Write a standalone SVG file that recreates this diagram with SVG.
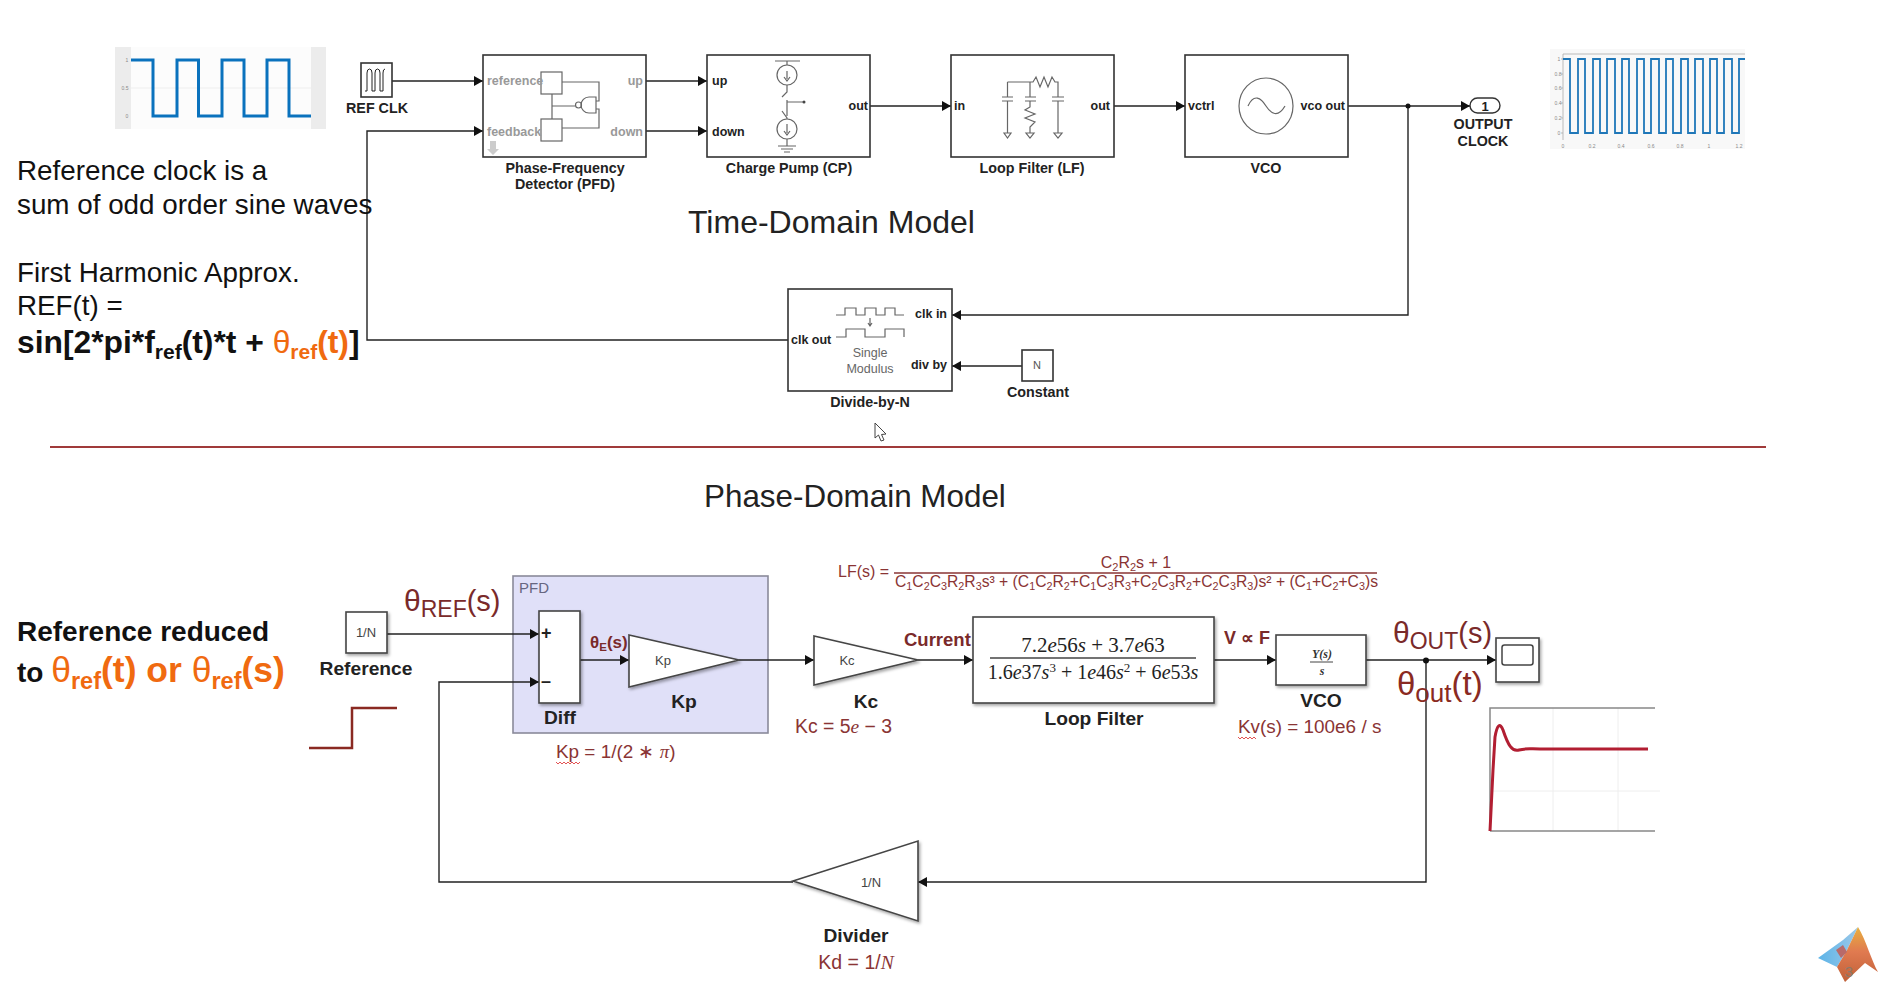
<svg xmlns="http://www.w3.org/2000/svg" width="1880" height="983" viewBox="0 0 1880 983">
<style>
text{font-family:"Liberation Sans",Arial,sans-serif;fill:#111}
.box{fill:#fff;stroke:#333;stroke-width:1.6}
.sbox{fill:#fff;stroke:#444;stroke-width:1.6;filter:url(#sh)}
.wire{fill:none;stroke:#222;stroke-width:1.4}
.ic{fill:none;stroke:#666;stroke-width:1.2}
.lb{font-weight:700;font-size:14.300px;fill:#222;text-anchor:middle}
.pt{font-size:12.500px;font-weight:700;fill:#222}
.gp{font-size:12.500px;font-weight:700;fill:#999}
.end{text-anchor:end}
.mid{text-anchor:middle}
.bl{font-weight:700;font-size:19.200px;fill:#222;text-anchor:middle}
.red{fill:#8a3434;font-size:18.900px}
.lf{fill:#8a3434;font-size:16px}
.dk{fill:#7a2a2a}
.do{fill:#8a2a22}
.or{fill:#f06a10}
.b{font-weight:700}
.tx{font-size:27.800px;fill:#111}
.tk{font-size:5px;fill:#888;text-anchor:middle}
.m{font-family:"Liberation Serif","Times New Roman",serif;font-size:21px;fill:#222;text-anchor:middle}
.m2{font-family:"Liberation Serif","Times New Roman",serif;font-size:12px;font-style:italic;font-weight:700;fill:#333;text-anchor:middle}
.sq{fill:none;stroke:#e04040;stroke-width:.9}
.ti{fill:#222}
.sm{font-size:13px;fill:#444;text-anchor:middle}
</style>
<defs>
<marker id="a" markerUnits="userSpaceOnUse" markerWidth="10" markerHeight="10" refX="9" refY="5" orient="auto"><path d="M0 0L9 5L0 10z" fill="#111"/></marker>
<filter id="sh" x="-10%" y="-10%" width="125%" height="125%"><feDropShadow dx="1.5" dy="2" stdDeviation="1.5" flood-color="#000" flood-opacity=".35"/></filter>
<linearGradient id="mlA" x1="0" y1="0" x2="0" y2="1"><stop offset="0" stop-color="#e8b040"/><stop offset=".45" stop-color="#e07a50"/><stop offset="1" stop-color="#c06038"/></linearGradient>
<linearGradient id="mlB" x1="0" y1="0" x2="1" y2="0"><stop offset="0" stop-color="#5cb4e8"/><stop offset="1" stop-color="#9cc8e8"/></linearGradient>
</defs>

<g id="wave-left">
<rect x="115" y="47" width="211" height="82" fill="#fcfcfc"/>
<rect x="115" y="47" width="16" height="82" fill="#ececec"/><rect x="311" y="47" width="15" height="82" fill="#ececec"/>
<path d="M131 88H311" stroke="#eee" fill="none"/>
<text class="tk" x="127" y="62">1</text><text class="tk" x="125" y="90">0.5</text><text class="tk" x="127" y="118">0</text>
<path d="M131 60H153V116H177V60H198.500V116H222V60H244V116H267V60H289V116H311" fill="none" stroke="#0a72bd" stroke-width="3"/>
</g>
<g id="wave-right">
<rect x="1550" y="49" width="195" height="100" fill="#f8f8f8"/>
<path d="M1563 140V54H1745M1563 133h-2M1563 118h-2M1563 103h-2M1563 88h-2M1563 74h-2M1563 59h-2" fill="none" stroke="#aaa" stroke-width=".8"/>
<path d="M1563 59H1570V133H1578V59H1585V133H1593V59H1600V133H1607V59H1615V133H1622V59H1629V133H1637V59H1644V133H1651V59H1659V133H1666V59H1673V133H1681V59H1688V133H1695V59H1703V133H1710V59H1717V133H1724V59H1732V133H1739V59H1745" fill="none" stroke="#1f77b8" stroke-width="1.800"/>
<text class="tk" x="1559" y="61">1</text><text class="tk" x="1558" y="76">0.8</text><text class="tk" x="1558" y="90">0.6</text><text class="tk" x="1558" y="105">0.4</text><text class="tk" x="1558" y="120">0.2</text><text class="tk" x="1559" y="135">0</text>
<text class="tk" x="1563" y="148">0</text><text class="tk" x="1592" y="148">0.2</text><text class="tk" x="1621" y="148">0.4</text><text class="tk" x="1651" y="148">0.6</text><text class="tk" x="1680" y="148">0.8</text><text class="tk" x="1709" y="148">1</text><text class="tk" x="1739" y="148">1.2</text>
</g>

<g id="connectors">
<path class="wire" marker-end="url(#a)" d="M392 81H483"/>
<path class="wire" marker-end="url(#a)" d="M788 340H367V131H483"/>
<path class="wire" marker-end="url(#a)" d="M646 81H707"/>
<path class="wire" marker-end="url(#a)" d="M646 131H707"/>
<path class="wire" marker-end="url(#a)" d="M870 106H951"/>
<path class="wire" marker-end="url(#a)" d="M1114 106H1185"/>
<path class="wire" marker-end="url(#a)" d="M1348 106H1470"/>
<path class="wire" marker-end="url(#a)" d="M1408 106V315H952"/>
<path class="wire" marker-end="url(#a)" d="M1022 366H952"/>
<circle cx="1408" cy="106" r="2.500" fill="#111"/>
</g>

<g id="left-notes">
<text class="tx" x="17" y="180">Reference clock is a</text>
<text class="tx" x="17" y="214">sum of odd order sine waves</text>
<text class="tx" x="17" y="282">First Harmonic Approx.</text>
<text class="tx" x="17" y="315">REF(t) =</text>
<text x="17" y="353" font-size="31.800" class="b">sin[2*pi*f<tspan font-size="21" dy="6">ref</tspan><tspan dy="-6">(t)*t + </tspan><tspan class="or" font-weight="400">θ</tspan><tspan class="or" font-size="21" dy="6">ref</tspan><tspan class="or" dy="-6">(t)</tspan>]</text>
<text x="17" y="641" font-size="28" class="b">Reference reduced</text>
<text x="17" y="682" font-size="28" class="b">to <tspan class="or" font-size="35.500" font-weight="400">θ</tspan><tspan class="or" font-size="23.500" dy="7">ref</tspan><tspan class="or" font-size="35.500" dy="-7">(t) or </tspan><tspan class="or" font-size="35.500" font-weight="400">θ</tspan><tspan class="or" font-size="23.500" dy="7">ref</tspan><tspan class="or" font-size="35.500" dy="-7">(s)</tspan></text>
</g>

<text class="ti" x="688" y="233" font-size="32">Time-Domain Model</text>
<text class="ti" x="704" y="507" font-size="31.400">Phase-Domain Model</text>
<path id="divider-rule" d="M50 447H1766" stroke="#a03a3a" stroke-width="2"/>
<path id="cursor" d="M875 423V438L878.500 435L881 441L884 440L881.500 434.500L886 434Z" fill="#fff" stroke="#444" stroke-width="1"/>

<g id="pfd-background"><rect x="513" y="576" width="255" height="157" fill="#e0e0f8" stroke="#8a8a9a" stroke-width="1.600"/><text x="519" y="593" font-size="15" style="fill:#666680">PFD</text></g>

<g id="connectors-phase">
<path class="wire" marker-end="url(#a)" d="M387 634H539"/>
<path class="wire" marker-end="url(#a)" d="M793 882H439V682H539"/>
<path class="wire" marker-end="url(#a)" d="M580 660H629"/>
<path class="wire" marker-end="url(#a)" d="M739 660H814"/>
<path class="wire" marker-end="url(#a)" d="M918 660H973"/>
<path class="wire" marker-end="url(#a)" d="M1214 660H1276"/>
<path class="wire" marker-end="url(#a)" d="M1366 660H1496"/>
<path class="wire" marker-end="url(#a)" d="M1426 660V882H918"/>
<circle cx="1426" cy="660.500" r="3" fill="#111"/>
</g>

<g id="ref-clk"><rect class="box" x="361" y="63" width="31" height="34"/><path d="M365 91H367V73Q367 69 369.500 69Q372 69 372 73V91H375V73Q375 69 377.500 69Q380 69 380 73V91H383V73Q383 69 385 69" fill="none" stroke="#222" stroke-width="1"/><text class="lb" x="377" y="113">REF CLK</text></g>

<g id="pfd-block"><rect class="box" x="483" y="55" width="163" height="102"/>
<rect class="ic" x="541" y="72" width="21" height="22"/><rect class="ic" x="541" y="119" width="21" height="22"/>
<path class="ic" d="M562 82H599V101H596M562 128H599V109H596M552 94V119M552 106H575M596 97V113H589A8 8 0 0 1 589 97Z"/><circle class="ic" cx="578.500" cy="105" r="3"/>
<path d="M490 141h6v8h3l-6 6l-6-6h3z" fill="#ccc"/>
<text class="gp" x="487" y="85">reference</text><text class="gp" x="487" y="136">feedback</text><text class="gp end" x="643" y="85">up</text><text class="gp end" x="643" y="136">down</text>
<text class="lb" x="565" y="173">Phase-Frequency</text><text class="lb" x="565" y="189">Detector (PFD)</text></g>

<g id="charge-pump"><rect class="box" x="707" y="55" width="163" height="102"/>
<path class="ic" d="M775 61H800M787 61V65M787 85V92L782 97M787 100V116M782 111L787 118V119M787 139V146M778 146H796M781 149H793M784 152H790M787 102H804M787 71V79M784 77L787 81L790 77M787 124V133M784 131L787 135L790 131"/><circle class="ic" cx="787" cy="75" r="10"/><circle class="ic" cx="787" cy="129" r="10"/><circle cx="804" cy="102" r="1.500" fill="#444"/>
<text class="pt" x="712" y="85">up</text><text class="pt" x="712" y="136">down</text><text class="pt end" x="868" y="110">out</text>
<text class="lb" x="789" y="173">Charge Pump (CP)</text></g>

<g id="loop-filter-lf"><rect class="box" x="951" y="55" width="163" height="102"/>
<path class="ic" d="M1007.500 82H1033L1036 77L1040 87L1044 77L1048 87L1052 77L1055 82H1058V97M1007.500 82V97M1030 82V97M1002 97H1013M1002 101H1013M1025 97H1036M1025 101H1036M1052 97H1064M1052 101H1064M1007.500 101V133M1058 101V133M1030 101V107L1025 110L1035 114L1025 118L1035 122L1030 127V133M1004 133H1011L1007.500 138ZM1026 133H1034L1030 138ZM1054 133H1062L1058 138Z"/>
<text class="pt" x="954" y="110">in</text><text class="pt end" x="1110" y="110">out</text>
<text class="lb" x="1032" y="173">Loop Filter (LF)</text></g>

<g id="vco-top"><rect class="box" x="1185" y="55" width="163" height="102"/>
<ellipse class="ic" cx="1266" cy="106" rx="27" ry="28"/><path class="ic" d="M1248 106C1254 93 1261 98 1266 106S1278 118 1285 106"/>
<text class="pt" x="1188" y="110">vctrl</text><text class="pt end" x="1345" y="110">vco out</text>
<text class="lb" x="1266" y="173">VCO</text></g>

<g id="output-clock"><rect x="1470" y="98" width="30" height="15" rx="7.500" fill="#fff" stroke="#333" stroke-width="1.400"/><text class="mid ti" x="1485" y="111" font-size="13" font-weight="700">1</text><text class="lb" x="1483" y="129">OUTPUT</text><text class="lb" x="1483" y="146">CLOCK</text></g>

<g id="divide-by-n"><rect class="box" x="788" y="289" width="164" height="102"/>
<path class="ic" d="M836 315H845V308H856V315H865V308H876V315H885V308H895V315H904M836 337H846V329H865V337H885V329H904V337M870 318V325M868 323L870 326L872 323"/>
<text class="mid" x="870" y="357" font-size="12.500" style="fill:#666">Single</text><text class="mid" x="870" y="373" font-size="12.500" style="fill:#666">Modulus</text>
<text class="pt end" x="947" y="318">clk in</text><text class="pt end" x="947" y="369">div by</text><text class="pt" x="791" y="344">clk out</text>
<text class="lb" x="870" y="407">Divide-by-N</text></g>

<g id="constant"><rect class="box" x="1022" y="350" width="31" height="31"/><text class="mid" x="1037" y="369" font-size="11" style="fill:#555">N</text><text class="lb" x="1038" y="397">Constant</text></g>

<g id="reference"><rect class="sbox" x="346" y="612" width="41" height="41"/><text class="sm" x="366" y="637">1/N</text><text class="bl" x="366" y="675">Reference</text></g>
<path id="step" d="M309 748H352V708H397" fill="none" stroke="#8a2a22" stroke-width="2.500"/>
<g id="theta-ref"><text class="dk" x="404" y="611" font-size="30">θ<tspan font-size="23" dy="6">REF</tspan><tspan font-size="29" dy="-6">(s)</tspan></text></g>

<g id="diff"><rect class="sbox" x="539" y="611" width="41" height="92"/><text class="ti" x="541" y="639" font-size="18" font-weight="700">+</text><text class="ti" x="541" y="687" font-size="18" font-weight="700">–</text><text class="bl" x="560" y="724">Diff</text></g>
<text class="dk b" x="590" y="648" font-size="17">θ<tspan font-size="11.500" dy="3">E</tspan><tspan dy="-3">(s)</tspan></text>
<g id="kp"><path class="sbox" d="M629 635L739 660L629 687Z"/><text class="sm" x="663" y="665">Kp</text><text class="bl" x="684" y="708">Kp</text></g>
<g id="kc"><path class="sbox" d="M814 636L918 660L814 685Z"/><text class="sm" x="847" y="665">Kc</text><text class="bl" x="866" y="708">Kc</text></g>
<g id="kp-eq"><text class="red" x="556" y="758">Kp = 1/(2 ∗ <tspan font-family="Liberation Serif" font-style="italic">π</tspan>)</text><path class="sq" d="M556 762l2 2l2-2l2 2l2-2l2 2l2-2l2 2l2-2l2 2l2-2l2 2l2-2"/></g>
<text class="red" x="795" y="733" style="font-size:19.400px">Kc = 5<tspan font-family="Liberation Serif" font-style="italic">e</tspan> − 3</text>

<text class="dk b" x="904" y="646" font-size="18.500">Current</text>
<g id="loop-filter"><rect class="sbox" x="973" y="617" width="241" height="86"/><text class="m" x="1093" y="652">7.2<tspan font-style="italic">e</tspan>56<tspan font-style="italic">s</tspan> + 3.7<tspan font-style="italic">e</tspan>63</text><path d="M990 658H1196" stroke="#444" stroke-width="1.500"/><text class="m" x="1093" y="679" style="font-size:20px">1.6<tspan font-style="italic">e</tspan>37<tspan font-style="italic">s</tspan><tspan font-size="13" dy="-7">3</tspan><tspan dy="7"> + 1</tspan><tspan font-style="italic">e</tspan>46<tspan font-style="italic">s</tspan><tspan font-size="13" dy="-7">2</tspan><tspan dy="7"> + 6</tspan><tspan font-style="italic">e</tspan>53<tspan font-style="italic">s</tspan></text><text class="bl" x="1094" y="725">Loop Filter</text></g>
<g id="lf-eq">
<text class="lf" x="838" y="577">LF(s) =</text>
<path d="M894 573H1377" stroke="#8a3434" stroke-width="1.300"/>
<text class="lf mid" x="1136" y="568">C<tspan font-size="11" dy="3">2</tspan><tspan dy="-3">R</tspan><tspan font-size="11" dy="3">2</tspan><tspan dy="-3">s + 1</tspan></text>
<text class="lf" x="895" y="587" textLength="483" lengthAdjust="spacingAndGlyphs">C<tspan font-size="11" dy="3">1</tspan><tspan dy="-3">C</tspan><tspan font-size="11" dy="3">2</tspan><tspan dy="-3">C</tspan><tspan font-size="11" dy="3">3</tspan><tspan dy="-3">R</tspan><tspan font-size="11" dy="3">2</tspan><tspan dy="-3">R</tspan><tspan font-size="11" dy="3">3</tspan><tspan dy="-3">s³ + (C</tspan><tspan font-size="11" dy="3">1</tspan><tspan dy="-3">C</tspan><tspan font-size="11" dy="3">2</tspan><tspan dy="-3">R</tspan><tspan font-size="11" dy="3">2</tspan><tspan dy="-3">+C</tspan><tspan font-size="11" dy="3">1</tspan><tspan dy="-3">C</tspan><tspan font-size="11" dy="3">3</tspan><tspan dy="-3">R</tspan><tspan font-size="11" dy="3">3</tspan><tspan dy="-3">+C</tspan><tspan font-size="11" dy="3">2</tspan><tspan dy="-3">C</tspan><tspan font-size="11" dy="3">3</tspan><tspan dy="-3">R</tspan><tspan font-size="11" dy="3">2</tspan><tspan dy="-3">+C</tspan><tspan font-size="11" dy="3">2</tspan><tspan dy="-3">C</tspan><tspan font-size="11" dy="3">3</tspan><tspan dy="-3">R</tspan><tspan font-size="11" dy="3">3</tspan><tspan dy="-3">)s² + (C</tspan><tspan font-size="11" dy="3">1</tspan><tspan dy="-3">+C</tspan><tspan font-size="11" dy="3">2</tspan><tspan dy="-3">+C</tspan><tspan font-size="11" dy="3">3</tspan><tspan dy="-3">)s</tspan></text>
</g>
<text class="dk b" x="1224" y="644" font-size="18">V ∝ F</text>
<g id="vco"><rect class="sbox" x="1276" y="635" width="90" height="50"/><text class="m2" x="1322" y="658">Y(s)</text><path d="M1310 662H1333" stroke="#444" stroke-width="1"/><text class="m2" x="1322" y="675">s</text><text class="bl" x="1321" y="707">VCO</text></g>
<g id="kv-eq"><text class="red" x="1238" y="733">Kv(s) = 100e6 / s</text><path class="sq" d="M1238 737l2 2l2-2l2 2l2-2l2 2l2-2l2 2l2-2l2 2"/></g>
<text class="dk" x="1393" y="643" font-size="30">θ<tspan font-size="23" dy="6">OUT</tspan><tspan font-size="29" dy="-6">(s)</tspan></text>
<text class="do" x="1397" y="695" font-size="33">θ<tspan font-size="26" dy="7">out</tspan><tspan dy="-7">(t)</tspan></text>
<g id="scope"><rect class="sbox" x="1496" y="638" width="43" height="44"/><rect x="1502" y="645" width="31" height="20" rx="2.500" fill="#fff" stroke="#444" stroke-width="1.500"/></g>
<g id="scope-plot"><path d="M1553 708V831M1618 708V831M1490 791H1660" stroke="#eee" fill="none"/><path d="M1490 831V708H1655M1490 831H1655" fill="none" stroke="#888" stroke-width="1.500"/>
<path d="M1490 831L1493 770L1495 737C1497 725 1500 722 1503 730C1508 745 1512 752 1519 750C1526 748 1530 749 1540 749H1648" fill="none" stroke="#b21e32" stroke-width="3"/></g>
<g id="divider"><path class="sbox" d="M793 881L918 841V921Z"/><text class="sm" x="871" y="887">1/N</text><text class="bl" x="856" y="942">Divider</text><text class="red mid" x="856" y="969" style="font-size:19.500px">Kd = 1/<tspan font-family="Liberation Serif" font-style="italic">N</tspan></text></g>

<g id="matlab-logo"><path d="M1818 958L1843 940L1858 927L1847 950L1837 967Z" fill="url(#mlB)"/><path d="M1858 927C1866 940 1872 962 1878 972L1865 963L1845 982L1837 967L1847 950Z" fill="url(#mlA)"/><path d="M1836 950L1843 945L1847 952L1841 958Z" fill="#b86a6a"/><text class="mid" x="1849" y="977" font-size="15" style="fill:#8a7a6a">3</text></g>
</svg>
